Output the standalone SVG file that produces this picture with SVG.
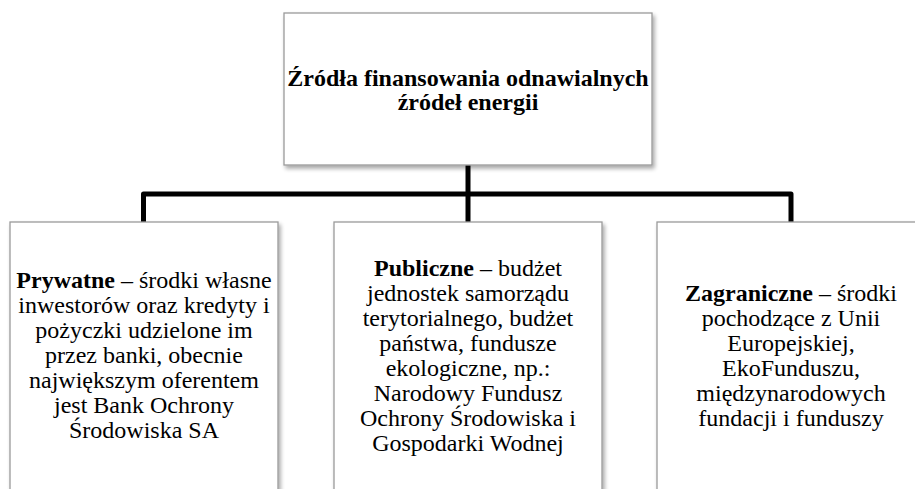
<svg xmlns="http://www.w3.org/2000/svg" width="915" height="489" viewBox="0 0 915 489">
<defs>
<filter id="sh" x="-10%" y="-10%" width="130%" height="130%">
<feGaussianBlur in="SourceAlpha" stdDeviation="2"/>
<feOffset dx="2" dy="3" result="b"/>
<feComponentTransfer><feFuncA type="linear" slope="0.35"/></feComponentTransfer>
<feMerge><feMergeNode/><feMergeNode in="SourceGraphic"/></feMerge>
</filter>
</defs>
<style>
.box{fill:#fff;stroke:#9a9a9a;stroke-width:1.3;filter:url(#sh)}
.t{font-size:24px;fill:#000;text-anchor:middle}
.b{font-weight:bold}
.con{fill:none;stroke:#000;stroke-width:5;stroke-linejoin:round}
</style>
<rect width="915" height="489" fill="#fff"/>
<g id="connectors">
<path class="con" d="M468,165 V222"/>
<path class="con" d="M143.5,222 V194 H791 V222"/>
</g>
<g font-family="'Liberation Serif', 'Times New Roman', Times, serif">
<g id="root">
<rect class="box" x="284" y="13" width="368" height="152"/>
<text class="t b" x="468" y="86">Źródła finansowania odnawialnych</text>
<text class="t b" x="468" y="110">źródeł energii</text>
</g>
<g id="prywatne">
<rect class="box" x="10" y="222" width="268" height="282"/>
<text class="t" x="144" y="288"><tspan class="b">Prywatne</tspan> – środki własne</text>
<text class="t" x="144" y="313">inwestorów oraz kredyty i</text>
<text class="t" x="144" y="338">pożyczki udzielone im</text>
<text class="t" x="144" y="363">przez banki, obecnie</text>
<text class="t" x="144" y="388">największym oferentem</text>
<text class="t" x="144" y="413">jest Bank Ochrony</text>
<text class="t" x="144" y="438">Środowiska SA</text>
</g>
<g id="publiczne">
<rect class="box" x="334" y="222" width="268" height="282"/>
<text class="t" x="468" y="276"><tspan class="b">Publiczne</tspan> – budżet</text>
<text class="t" x="468" y="301">jednostek samorządu</text>
<text class="t" x="468" y="326">terytorialnego, budżet</text>
<text class="t" x="468" y="351">państwa, fundusze</text>
<text class="t" x="468" y="376">ekologiczne, np.:</text>
<text class="t" x="468" y="401">Narodowy Fundusz</text>
<text class="t" x="468" y="426">Ochrony Środowiska i</text>
<text class="t" x="468" y="451">Gospodarki Wodnej</text>
</g>
<g id="zagraniczne">
<rect class="box" x="657" y="222" width="268" height="282"/>
<text class="t" x="791" y="301"><tspan class="b">Zagraniczne</tspan> – środki</text>
<text class="t" x="791" y="326">pochodzące z Unii</text>
<text class="t" x="791" y="351">Europejskiej,</text>
<text class="t" x="791" y="376">EkoFunduszu,</text>
<text class="t" x="791" y="401">międzynarodowych</text>
<text class="t" x="791" y="426">fundacji i funduszy</text>
</g>
</g>
</svg>
